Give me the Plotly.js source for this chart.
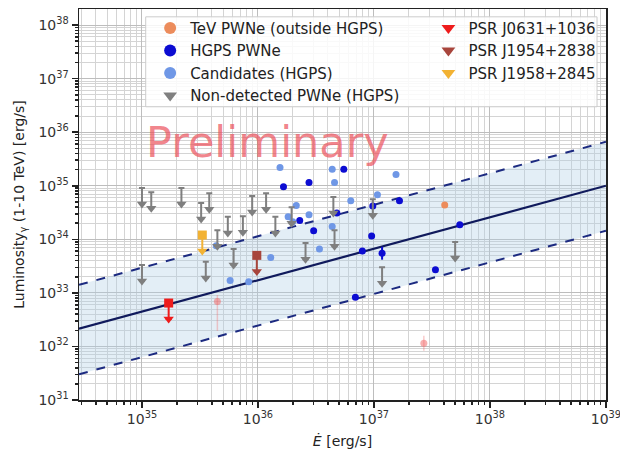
<!DOCTYPE html>
<html><head><meta charset="utf-8">
<script src="https://cdn.plot.ly/plotly-3.0.1.min.js"></script>
<style>html,body{margin:0;padding:0;background:#fff}</style>
</head><body><div id="chart" style="width:620px;height:454px"></div>
<script>
// ---- data (log10 values) ----
const xTickVals = [1e35, 1e36, 1e37, 1e38, 1e39];
const xTickText = ['10<sup>35</sup>','10<sup>36</sup>','10<sup>37</sup>','10<sup>38</sup>','10<sup>39</sup>'];
const yTickVals = [1e31,1e32,1e33,1e34,1e35,1e36,1e37,1e38];
const yTickText = ['10<sup>31</sup>','10<sup>32</sup>','10<sup>33</sup>','10<sup>34</sup>','10<sup>35</sup>','10<sup>36</sup>','10<sup>37</sup>','10<sup>38</sup>'];

// fit line and band (log10 E-dot, log10 L)
const fitLogE   = [34.457, 39.0];
const fitLogL   = [32.33, 35.0];
const fitUpper  = [33.15, 35.82];
const fitLower  = [31.48, 34.16];

// TeV PWNe outside HGPS
const tevLogE = [37.61];
const tevLogL = [34.64];
// faint (pink) TeV sources
const faintLogE = [35.65, 37.43];
const faintLogL = [32.84, 32.06];
const faintErrUp = [0.12, 0.14];
const faintErrDn = [0.55, 0.14];

// HGPS PWNe
const hgpsLogE = [36.22, 36.44, 36.74, 36.36, 36.48, 36.68, 36.99, 36.98, 36.90, 37.07, 36.84, 37.22, 37.74, 37.53];
const hgpsLogL = [34.98, 35.06, 35.31, 34.35, 34.16, 34.49, 34.62, 34.06, 33.78, 33.74, 32.92, 34.72, 34.27, 33.43];
const hgpsErrDex = [0, 0, 0, 0, 0, 0, 0, 0, 0, 0.12, 0, 0, 0, 0.05];

// Candidates (HGPS)
const candLogE = [36.19, 36.64, 36.66, 37.19, 36.33, 36.26, 36.44, 36.80, 37.03, 36.64, 36.53, 36.11, 35.64, 35.76, 35.92, 36.30];
const candLogL = [35.34, 35.31, 35.06, 35.21, 34.63, 34.42, 34.46, 34.72, 34.83, 34.24, 33.82, 33.66, 33.88, 33.23, 33.21, 34.33];

// Non-detected PWNe (HGPS) upper limits
const ulLogE = [35.00, 35.08, 35.34, 35.51, 35.58, 35.65, 35.55, 35.74, 35.79, 35.87, 35.95, 36.07, 35.00, 36.15, 36.29, 36.41, 36.65, 36.66, 36.99, 37.07, 37.70];
const ulLogL = [34.96, 34.88, 34.96, 34.68, 34.86, 34.17, 33.58, 34.42, 33.82, 34.43, 34.81, 34.86, 33.52, 34.42, 34.60, 33.93, 34.79, 34.17, 34.75, 33.48, 33.95];

// Pulsars (upper limits)
const psrNames = ['PSR J0631+1036', 'PSR J1954+2838', 'PSR J1958+2845'];
const psrLogE  = [35.23, 35.99, 35.52];
const psrLogL  = [32.81, 33.70, 34.08];
const psrColors = ['#ee1c1c', '#a8453c', '#f2b233'];

const arrowDex = 0.30;

// ---- helpers ----
const p10 = v => Math.pow(10, v);
const lin = a => a.map(p10);

// minor tick positions (2..9 within each decade)
function minorVals(lo, hi) {
  const out = [];
  for (let d = lo; d <= hi; d++) for (let k = 2; k <= 9; k++) out.push(k * p10(d));
  return out;
}

function ulTrace(logE, logL, color, name, legend, showlegend) {
  const top = lin(logL);
  const bot = logL.map(v => p10(v - arrowDex));
  return {
    type: 'scatter', mode: 'markers', name: name, legend: legend, showlegend: showlegend,
    x: lin(logE), y: bot,
    marker: {symbol: 'triangle-down', size: 9, color: color},
    error_y: {type: 'data', symmetric: false, array: top.map((t, i) => t - bot[i]),
              arrayminus: bot.map(() => 0), color: color, thickness: 2, width: 3},
    hoverinfo: 'skip'
  };
}

const traces = [];
// band
traces.push({type:'scatter', mode:'lines', x: lin(fitLogE), y: lin(fitLower), showlegend:false,
  line:{color:'#1c2a80', width:2, dash:'dash'}, hoverinfo:'skip'});
traces.push({type:'scatter', mode:'lines', x: lin(fitLogE), y: lin(fitUpper), showlegend:false,
  fill:'tonexty', fillcolor:'rgba(176,205,230,0.35)',
  line:{color:'#1c2a80', width:2, dash:'dash'}, hoverinfo:'skip'});
traces.push({type:'scatter', mode:'lines', x: lin(fitLogE), y: lin(fitLogL), showlegend:false,
  line:{color:'#101a5c', width:2.2}, hoverinfo:'skip'});

// TeV PWNe outside HGPS
traces.push({type:'scatter', mode:'markers', name:'TeV PWNe (outside HGPS)', legend:'legend',
  x: lin(tevLogE), y: lin(tevLogL), marker:{color:'#ec8c5c', size:7}});
// faint ones
traces.push({type:'scatter', mode:'markers', showlegend:false,
  x: lin(faintLogE), y: lin(faintLogL), marker:{color:'rgba(240,110,110,0.55)', size:7},
  error_y:{type:'data', symmetric:false,
    array: faintLogL.map((v,i)=>p10(v+faintErrUp[i])-p10(v)),
    arrayminus: faintLogL.map((v,i)=>p10(v)-p10(v-faintErrDn[i])),
    color:'rgba(240,110,110,0.35)', thickness:1.5, width:0}});
// HGPS PWNe
traces.push({type:'scatter', mode:'markers', name:'HGPS PWNe', legend:'legend',
  x: lin(hgpsLogE), y: lin(hgpsLogL), marker:{color:'#0c0cd2', size:7},
  error_y:{type:'data', symmetric:false,
    array: hgpsLogL.map((v,i)=>p10(v+hgpsErrDex[i])-p10(v)),
    arrayminus: hgpsLogL.map((v,i)=>p10(v)-p10(v-hgpsErrDex[i])),
    color:'#0c0cd2', thickness:2, width:0}});
// Candidates
traces.push({type:'scatter', mode:'markers', name:'Candidates (HGPS)', legend:'legend',
  x: lin(candLogE), y: lin(candLogL), marker:{color:'#6f97e6', size:7}});
// Non-detected
traces.push(ulTrace(ulLogE, ulLogL, '#7f7f7f', 'Non-detected PWNe (HGPS)', 'legend', true));

// PSRs
psrNames.forEach((nm, i) => {
  traces.push({type:'scatter', mode:'markers', showlegend:false,
    x:[p10(psrLogE[i])], y:[p10(psrLogL[i])], marker:{symbol:'square', size:9, color:psrColors[i]}});
  traces.push(ulTrace([psrLogE[i]], [psrLogL[i]], psrColors[i], nm, 'legend2', true));
});

const font = 'DejaVu Sans, sans-serif';
const gridMajor = '#bdbdbd';
const gridMinor = '#d4d4d4';

const layout = {
  width: 620, height: 454,
  margin: {l: 79, r: 14, t: 9, b: 54},
  paper_bgcolor: '#ffffff', plot_bgcolor: '#ffffff',
  font: {family: font, size: 14, color: '#222'},
  xaxis: {
    type: 'log', range: [34.457, 39.0005], tickmode: 'array', tickvals: xTickVals, ticktext: xTickText,
    ticklabeloverflow: 'allow',
    ticks: 'outside', ticklen: 6, tickwidth: 1.5, tickcolor: '#222',
    showline: true, linecolor: '#222', linewidth: 1.5, mirror: true,
    showgrid: true, gridcolor: gridMajor, gridwidth: 1, zeroline: false,
    minor: {tickmode: 'array', tickvals: minorVals(34, 38), ticks: 'outside', ticklen: 3, tickcolor: '#222',
            showgrid: true, gridcolor: gridMinor, gridwidth: 1},
    tickfont: {size: 14, color: '#333'},
    title: {text: '<i>Ė</i> [erg/s]', font: {size: 14, color: '#222'}, standoff: 10}
  },
  yaxis: {
    type: 'log', range: [31, 38.3], tickmode: 'array', tickvals: yTickVals, ticktext: yTickText,
    ticks: 'outside', ticklen: 6, tickwidth: 1.5, tickcolor: '#222',
    showline: true, linecolor: '#222', linewidth: 1.5, mirror: true,
    showgrid: true, gridcolor: gridMajor, gridwidth: 1, zeroline: false,
    minor: {tickmode: 'array', tickvals: minorVals(31, 38), ticks: 'outside', ticklen: 3, tickcolor: '#222',
            showgrid: true, gridcolor: gridMinor, gridwidth: 1},
    tickfont: {size: 14, color: '#333'},
    title: {text: 'Luminosity<sub>γ</sub> (1-10 TeV) [erg/s]', font: {size: 14, color: '#222'}, standoff: 10}
  },
  legend: {x: 0.135, y: 0.993, xanchor: 'left', yanchor: 'top', bgcolor: 'rgba(0,0,0,0)',
    borderwidth: 0, font: {size: 15, color: '#222'}, itemsizing: 'constant', traceorder: 'normal'},
  legend2: {x: 0.663, y: 0.993, xanchor: 'left', yanchor: 'top', bgcolor: 'rgba(0,0,0,0)',
    borderwidth: 0, font: {size: 15, color: '#222'}, itemsizing: 'constant', traceorder: 'normal'},
  shapes: [{type: 'rect', xref: 'paper', yref: 'paper', x0: 0.1266, x1: 0.983, y0: 0.75, y1: 0.98,
    fillcolor: 'rgba(255,255,255,0.85)', line: {color: '#cccccc', width: 1}, layer: 'above'}],
  annotations: [{text: 'Preliminary', xref: 'paper', yref: 'paper', x: 0.3586, y: 0.66,
    xanchor: 'center', yanchor: 'middle', showarrow: false,
    font: {family: font, size: 43, color: 'rgba(236,80,90,0.7)'}}]
};

Plotly.newPlot('chart', traces, layout, {staticPlot: true, displayModeBar: false});
</script></body></html>
